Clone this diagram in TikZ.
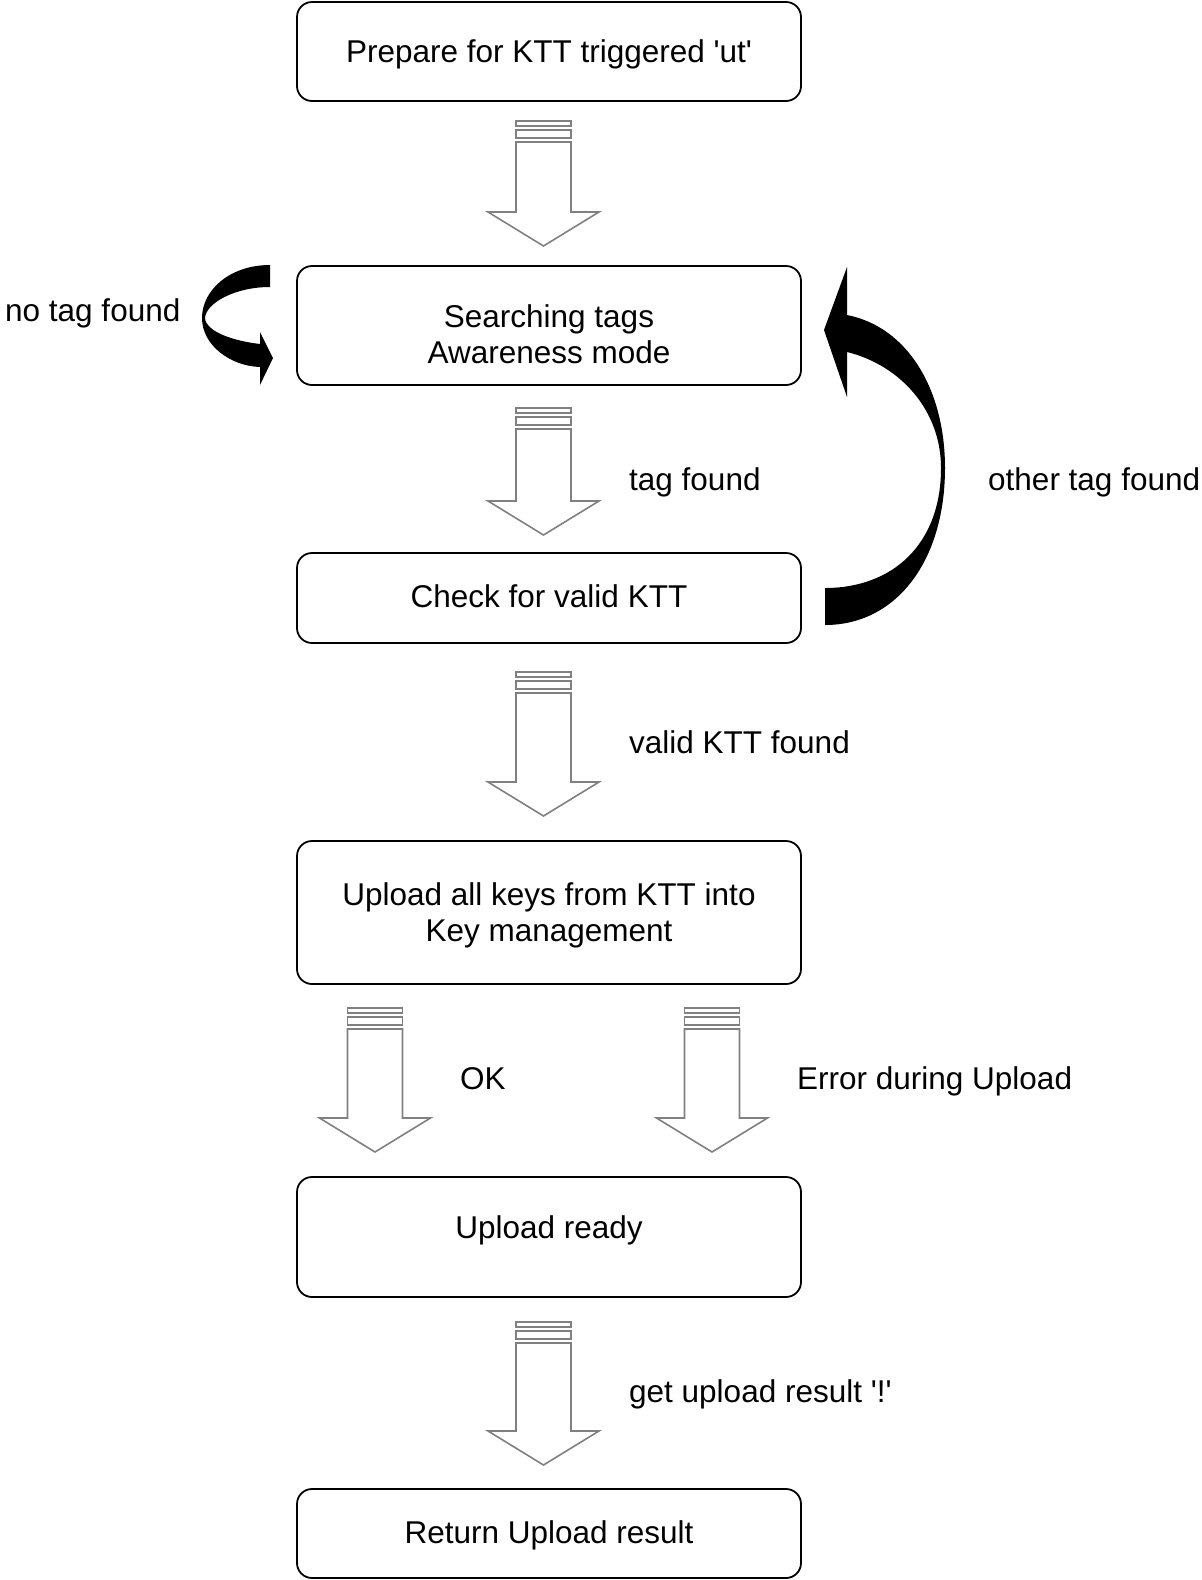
\documentclass[tikz,border=0pt]{standalone}
\usepackage{fontspec}
\setmainfont{Liberation Sans}
\definecolor{arrgray}{RGB}{128,128,128}
\newcommand\hollowarr[3]{% #1 x centre, #2 top, #3 tip
  \draw[hollow] ({#1-27.5},{#2}) rectangle ({#1+27.5},{#2+5});
  \draw[hollow] ({#1-27.5},{#2+9}) rectangle ({#1+27.5},{#2+17});
  \draw[hollow] ({#1-27.5},{#2+21}) -- ({#1-27.5},{#3-34}) -- ({#1-55.5},{#3-34})
     -- ({#1},{#3}) -- ({#1+55.5},{#3-34}) -- ({#1+27.5},{#3-34}) -- ({#1+27.5},{#2+21}) -- cycle;
}
\begin{document}
\begin{tikzpicture}[x=1pt,y=-1pt,
  box/.style={draw=black, line width=1.8pt, rounded corners=15pt, minimum width=504pt, inner sep=0pt},
  txt/.style={anchor=base, font=\fontsize{31.5}{36}\selectfont, inner sep=0pt},
  lbl/.style={anchor=base west, font=\fontsize{31.5}{36}\selectfont, inner sep=0pt},
  hollow/.style={draw=arrgray, line width=1.6pt, fill=white, line join=miter}]
\useasboundingbox (0,0) rectangle (1202,1580);

% boxes
\node[box, minimum height=99pt]  (b1) at (549,51.5)   {};
\node[box, minimum height=119pt] (b2) at (549,325.5)  {};
\node[box, minimum height=90pt]  (b3) at (549,598)    {};
\node[box, minimum height=143pt] (b4) at (549,912.5)  {};
\node[box, minimum height=120pt] (b5) at (549,1237)   {};
\node[box, minimum height=89pt]  (b6) at (549,1533.5) {};

% box texts
\node[txt] (t1)  at (549,62)   {Prepare for KTT triggered \textquotesingle ut\textquotesingle};
\node[txt] (t2a) at (549,327)  {Searching tags};
\node[txt] (t2b) at (549,363)  {Awareness mode};
\node[txt] (t3)  at (549,607)  {Check for valid KTT};
\node[txt] (t4a) at (549,905)  {Upload all keys from KTT into};
\node[txt] (t4b) at (549,941)  {Key management};
\node[txt] (t5)  at (549,1238) {Upload ready};
\node[txt] (t6)  at (549,1543) {Return Upload result};

% hollow arrows
\hollowarr{543.5}{121}{246}
\hollowarr{543.5}{408}{535}
\hollowarr{543.5}{672}{816}
\hollowarr{375}{1008}{1152}
\hollowarr{712}{1008}{1152}
\hollowarr{543.5}{1322}{1465}

% labels
\node[lbl] (l1) at (5,321)    {no tag found};
\node[lbl] (l2) at (629,490)  {tag found};
\node[lbl] (l3) at (988,490)  {other tag found};
\node[lbl] (l4) at (629,753)  {valid KTT found};
\node[lbl] (l5) at (460,1089) {OK};
\node[lbl] (l6) at (797,1089) {Error during Upload};
\node[lbl] (l7) at (629,1402) {get upload result \textquotesingle!\textquotesingle};

% left curved arrow (no tag found)
\fill[black] (270,265) .. controls (230,265) and (202,290) .. (202,318)
  .. controls (202,345) and (230,366) .. (260,367)
  -- (260,385) -- (273,358) -- (260,332) -- (260,344)
  .. controls (234,341) and (206,332) .. (205,318)
  .. controls (206,303) and (235,287) .. (270,287) -- cycle;

% right curved arrow (other tag found)
\fill[black] (825,625) .. controls (897,625) and (945,560) .. (945,468)
  .. controls (945,390) and (908,327) .. (847,315)
  -- (847,267) -- (824,330) -- (847,397) -- (847,352)
  .. controls (900,365) and (941,410) .. (941,468)
  .. controls (941,545) and (892,588) .. (825,588) -- cycle;
\end{tikzpicture}
\end{document}
